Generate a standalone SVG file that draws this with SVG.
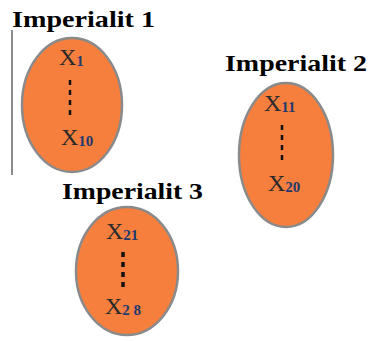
<svg xmlns="http://www.w3.org/2000/svg" width="370" height="341" viewBox="0 0 370 341">
<style>
.bg{fill:#ffffff}
.ell{fill:#F77F3E;stroke:#8a8a8a;stroke-width:2.5}
.title{font-family:"Liberation Serif","Times New Roman",serif;font-weight:bold;font-size:24px;fill:#000000}
.x{font-family:"Liberation Serif","Times New Roman",serif;font-size:24px;fill:#2a2a2a}
.sub{font-size:15px;font-weight:bold;fill:#1e3a6e}
.dots{stroke:#111111;stroke-width:2.5;stroke-dasharray:5 5;fill:none}
</style>
<rect class="bg" x="0" y="0" width="370" height="341"/>
<g id="connectors">
<line x1="12" y1="30" x2="12" y2="175" stroke="#666666" stroke-width="1.5"/>
</g>
<g id="imperialist1">
<text class="title" x="12" y="27" textLength="143" lengthAdjust="spacingAndGlyphs">Imperialit  1</text>
<ellipse class="ell" cx="72" cy="105" rx="50" ry="67"/>
<text class="x" x="59" y="65">X<tspan class="sub" dy="1">1</tspan></text>
<line class="dots" x1="70" y1="80" x2="70" y2="118"/>
<text class="x" x="61" y="145">X<tspan class="sub" dy="1">10</tspan></text>
</g>
<g id="imperialist2">
<text class="title" x="225" y="71" textLength="142" lengthAdjust="spacingAndGlyphs">Imperialit  2</text>
<ellipse class="ell" cx="286" cy="155" rx="47" ry="72"/>
<text class="x" x="264" y="111">X<tspan class="sub" dy="1">11</tspan></text>
<line class="dots" x1="282" y1="125" x2="282" y2="162"/>
<text class="x" x="268" y="191">X<tspan class="sub" dy="1">20</tspan></text>
</g>
<g id="imperialist3">
<text class="title" x="62" y="199" textLength="141" lengthAdjust="spacingAndGlyphs">Imperialit  3</text>
<ellipse class="ell" cx="127" cy="271" rx="51" ry="64"/>
<text class="x" x="106" y="239">X<tspan class="sub" dy="1">21</tspan></text>
<line class="dots" x1="123" y1="252" x2="123" y2="288" style="stroke-width:3.5"/>
<text class="x" x="105" y="314">X<tspan class="sub" dy="1">2 8</tspan></text>
</g>
</svg>
